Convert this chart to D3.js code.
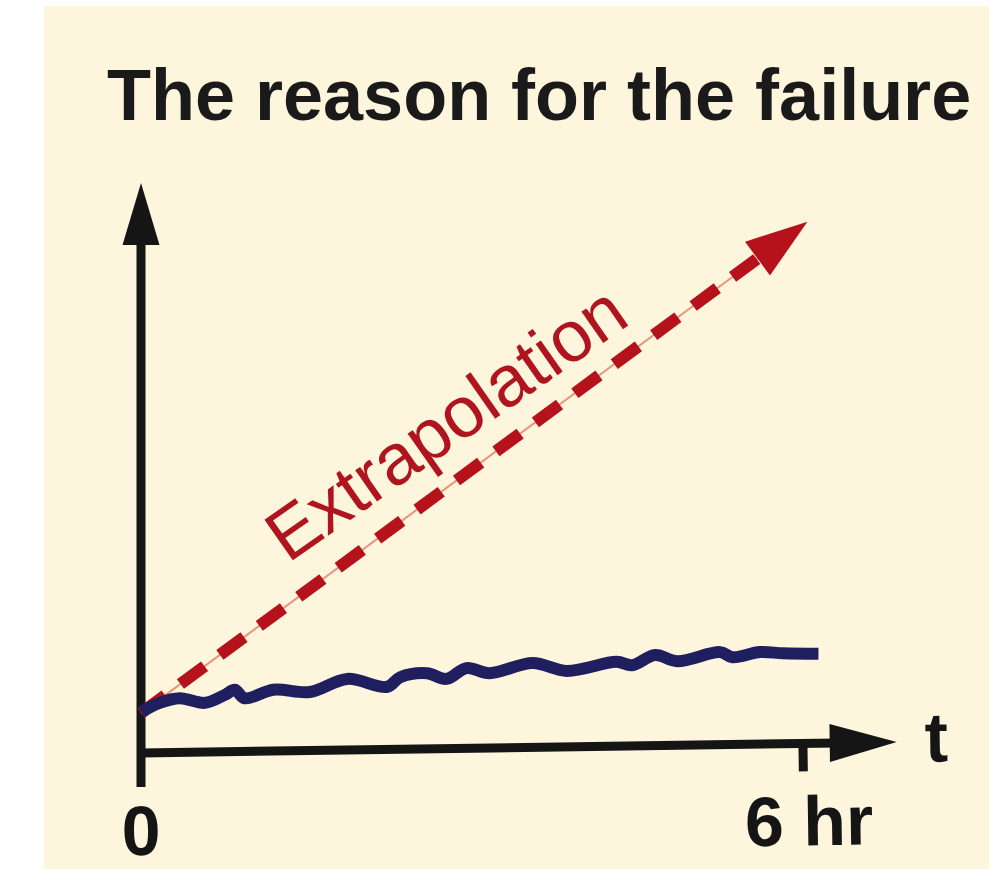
<!DOCTYPE html>
<html>
<head>
<meta charset="utf-8">
<script src="https://cdn.jsdelivr.net/npm/d3@7"></script>
<style>
  body { margin: 0; background: #ffffff; }
  text { font-family: "Liberation Sans", Arial, Helvetica, sans-serif; }
</style>
</head>
<body>
<div class="chart-wrapper"></div>
<script>
// measured signal (hours, arbitrary units)
let hours  = [0, 0.17, 0.35, 0.58, 0.76, 0.85, 0.94, 1.20, 1.53, 1.87, 2.23, 2.35, 2.59, 2.77, 2.95, 3.16, 3.55, 3.86, 4.31, 4.45, 4.66, 4.86, 5.25, 5.36, 5.61, 5.82, 6.14];
let signal = [7.2, 8.8, 9.6, 8.8, 10.2, 11.1, 9.6, 11.1, 10.7, 13.0, 11.6, 13.3, 14.0, 13.0, 14.9, 14.0, 15.8, 14.4, 16.0, 15.4, 17.2, 16.1, 17.7, 16.8, 17.7, 17.5, 17.4];
// extrapolated straight line (start, end)
let extraHours = [0, 6.04];
let extraValues = [7.0, 93.2];
let tickHours = [0, 6];
let tickLabels = ["0", "6 hr"];
let titleText = "The reason for the failure";
let arrowLabel = "Extrapolation";
let axisLabel = "t";

let W = 989;
let H = 870;

let svg = d3.select(".chart-wrapper")
            .append("svg")
            .attr("width", W)
            .attr("height", H)
;

svg.append("rect")
   .attr("x", 44).attr("y", 6)
   .attr("width", W-44).attr("height", 863)
   .attr("fill", "#fdf5dc")
;

let xScale = d3.scaleLinear().domain([0, 6]).range([141, 803]);
let yScale = d3.scaleLinear().domain([0, 100]).range([753, 183]);

// title
svg.append("text")
   .attr("x", 107).attr("y", 120)
   .attr("font-size", 72).attr("font-weight", "bold")
   .attr("fill", "#1a1a1a")
   .text(titleText)
;

// x axis (slightly tilted like the drawing)
let x0 = xScale(0), y0 = yScale(0);
let xAxisGroup = svg.append("g")
                    .attr("class", "xaxisgroup")
                    .attr("transform", "rotate(-0.83," + x0 + "," + y0 + ")")
;
let xTip = xScale(6.85);
xAxisGroup.append("line")
          .attr("x1", x0).attr("y1", y0)
          .attr("x2", xTip - 60).attr("y2", y0)
          .attr("stroke", "#151515").attr("stroke-width", 9)
;
xAxisGroup.append("path")
          .attr("d", "M" + xTip + "," + y0 + "L" + (xTip-67) + "," + (y0-19) + "L" + (xTip-67) + "," + (y0+19) + "Z")
          .attr("fill", "#151515")
;
xAxisGroup.append("line")
          .attr("x1", xScale(6)).attr("y1", y0)
          .attr("x2", xScale(6)).attr("y2", y0 + 28)
          .attr("stroke", "#151515").attr("stroke-width", 9)
;
xAxisGroup.selectAll(".ticklabel").data(tickHours).enter()
          .append("text")
          .attr("class", "ticklabel")
          .attr("x", (d, i) => xScale(d) + (i == 0 ? -1 : 5))
          .attr("y", y0 + 102)
          .attr("text-anchor", "middle")
          .attr("font-size", 70).attr("font-weight", "bold")
          .attr("fill", "#151515")
          .text((d, i) => tickLabels[i])
;
xAxisGroup.append("text")
          .attr("x", xTip + 28).attr("y", y0 + 20)
          .attr("font-size", 70).attr("font-weight", "bold")
          .attr("fill", "#151515")
          .text(axisLabel)
;

// y axis
let yTop = yScale(100);
svg.append("line")
   .attr("x1", x0).attr("y1", y0 + 34)
   .attr("x2", x0).attr("y2", yTop + 55)
   .attr("stroke", "#151515").attr("stroke-width", 9)
;
svg.append("path")
   .attr("d", "M" + x0 + "," + yTop + "L" + (x0-18.5) + "," + (yTop+62) + "L" + (x0+18.5) + "," + (yTop+62) + "Z")
   .attr("fill", "#151515")
;

// extrapolation arrow
let ex1 = xScale(extraHours[0]), ey1 = yScale(extraValues[0]);
let ex2 = xScale(extraHours[1]), ey2 = yScale(extraValues[1]);
let len = Math.hypot(ex2-ex1, ey2-ey1);
let ux = (ex2-ex1)/len, uy = (ey2-ey1)/len;
let headLen = 62, headW = 21;
let bx = ex2 - ux*headLen, by = ey2 - uy*headLen;

svg.append("line")
   .attr("x1", ex1).attr("y1", ey1).attr("x2", bx).attr("y2", by)
   .attr("stroke", "#e8937c").attr("stroke-width", 2)
;
svg.append("line")
   .attr("x1", ex1).attr("y1", ey1).attr("x2", bx + ux*10).attr("y2", by + uy*10)
   .attr("stroke", "#b5121b").attr("stroke-width", 12)
   .attr("stroke-dasharray", "30 19")
;
svg.append("path")
   .attr("d", "M" + ex2 + "," + ey2
            + "L" + (bx - uy*headW) + "," + (by + ux*headW)
            + "L" + (bx + uy*headW) + "," + (by - ux*headW) + "Z")
   .attr("fill", "#b5121b")
;

let angle = Math.atan2(ey2-ey1, ex2-ex1) * 180 / Math.PI + 1.4;
let along = 206;
svg.append("text")
   .attr("transform", "translate(" + (ex1 + ux*along) + "," + (ey1 + uy*along) + ") rotate(" + angle + ")")
   .attr("y", -33)
   .attr("font-size", 72)
   .attr("fill", "#b0141e")
   .text(arrowLabel)
;

// measured signal
let lineData = hours.map((h, i) => [h, signal[i]]);
let line = d3.line()
             .x(d => xScale(d[0]))
             .y(d => yScale(d[1]))
             .curve(d3.curveCatmullRom.alpha(0.5))
;
svg.append("path")
   .datum(lineData)
   .attr("d", line)
   .attr("fill", "none")
   .attr("stroke", "#1f1f60")
   .attr("stroke-width", 12)
   .attr("stroke-linejoin", "round")
;
</script>
</body>
</html>
